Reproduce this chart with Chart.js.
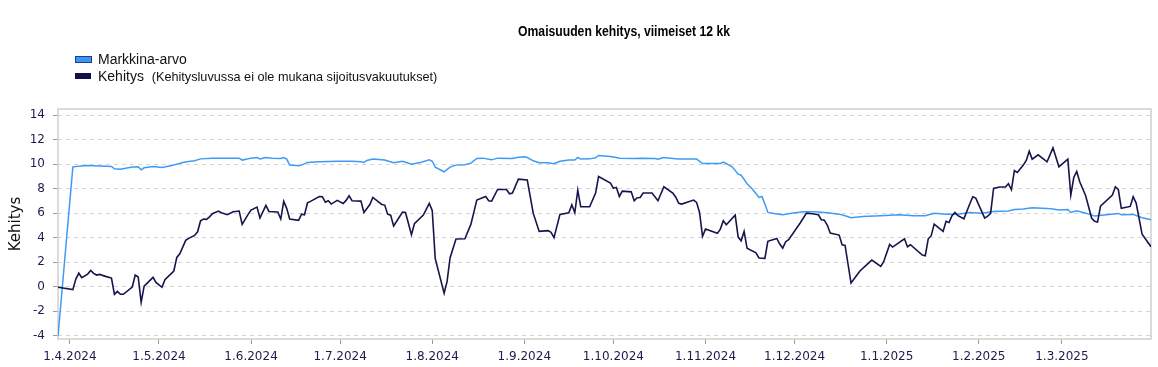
<!DOCTYPE html>
<html>
<head>
<meta charset="utf-8">
<script src="https://cdn.jsdelivr.net/npm/chart.js@4/dist/chart.umd.min.js"></script>
<style>
  html, body { margin: 0; padding: 0; background: #ffffff; }
  #wrap { position: relative; width: 1158px; height: 367px; overflow: hidden; }
  #chart { position: absolute; left: 0; top: 0; }
  #title { position: absolute; left: 474px; width: 300px; top: 23px; text-align: center; white-space: nowrap;
    font-family: "Liberation Sans", Arial, sans-serif; font-weight: bold; font-size: 14px; color: #000;
    transform: scaleX(0.87); transform-origin: 50% 50%; }
  .leg { position: absolute; left: 75px; font-family: "Liberation Sans", Arial, sans-serif; font-size: 14px; color: #111; white-space: nowrap; }
  .leg .box { position: absolute; left: 0; width: 16px; height: 6px; }
  .leg .txt { position: absolute; left: 23px; top: 0; }
</style>
</head>
<body>
<div id="wrap">
  <canvas id="chart" width="1158" height="367"></canvas>
  <div id="title">Omaisuuden kehitys, viimeiset 12 kk</div>
  <div class="leg" style="top:51px"><span class="box" style="top:5px;background:#3d97f2;border:1px solid #1d3f8f;width:15px;height:5px"></span><span class="txt">Markkina-arvo</span></div>
  <div class="leg" style="top:68px"><span class="box" style="top:5px;background:#12124a;"></span><span class="txt">Kehitys&nbsp; <span style="font-size:12.7px">(Kehitysluvussa ei ole mukana sijoitusvakuutukset)</span></span></div>
</div>
<script>
// x values are days counted from 1.4.2024
const monthTickLabels = ['1.4.2024','1.5.2024','1.6.2024','1.7.2024','1.8.2024','1.9.2024','1.10.2024','1.11.2024','1.12.2024','1.1.2025','1.2.2025','1.3.2025'];
const yTickValues = [-4,-2,0,2,4,6,8,10,12,14];

const markkinaDays = [-4,1,4,6,10,14,15,17,21,23,24,25,28,31,34,38,40,42,44,48,54,57,58,61,63,64,66,68,71,72,73,74,77,78,80,84,90,95,98,99,100,102,106,109,112,115,118,121,122,123,126,128,130,133,135,137,139,142,144,149,151,153,154,156,158,161,163,165,168,170,171,172,175,177,178,182,184,185,190,192,197,198,200,202,205,211,213,219,220,223,225,226,228,230,232,233,234,235,237,240,243,247,251,255,257,259,261,263,267,273,279,284,288,291,295,299,303,307,311,316,318,321,324,329,331,333,336,337,339,342,345,349,353,354,358,361,364];
const markkinaValues = [-4.05,9.78,9.84,9.89,9.84,9.81,9.62,9.59,9.76,9.78,9.54,9.7,9.81,9.73,9.86,10.14,10.22,10.27,10.43,10.49,10.49,10.49,10.33,10.49,10.54,10.43,10.54,10.49,10.46,10.54,10.41,9.92,9.86,9.92,10.14,10.19,10.24,10.24,10.19,10.14,10.3,10.41,10.33,10.11,10.24,10.0,10.14,10.35,10.24,9.76,9.38,9.76,9.92,9.95,10.08,10.46,10.49,10.35,10.49,10.46,10.57,10.6,10.54,10.27,10.11,10.11,10.03,10.24,10.33,10.33,10.54,10.41,10.43,10.52,10.71,10.62,10.54,10.49,10.46,10.49,10.46,10.41,10.54,10.49,10.41,10.41,10.05,10.05,10.16,9.78,9.18,9.1,8.4,7.91,7.28,7.36,6.74,6.06,5.98,5.87,6.0,6.11,6.11,6.03,5.98,5.92,5.79,5.63,5.73,5.79,5.87,5.79,5.79,6.0,5.92,5.92,6.06,6.0,6.14,6.17,6.3,6.33,6.44,6.39,6.33,6.25,6.3,6.06,6.2,6.0,5.76,5.87,5.98,5.87,5.9,5.63,5.46];

const kehitysDays = [-4,1,2,3,4,6,7,8,9,10,12,14,15,16,17,18,21,22,23,24,25,28,29,31,32,35,36,37,39,40,42,43,44,45,46,47,48,50,51,53,55,57,58,60,61,63,64,66,67,70,71,72,73,74,77,78,79,80,81,84,85,86,87,88,90,92,93,94,95,98,99,101,102,105,106,107,108,109,112,113,115,116,119,121,122,123,126,127,128,130,133,135,136,137,140,141,142,144,147,148,149,151,154,156,158,161,162,163,165,168,169,170,171,172,175,177,178,182,183,184,185,186,189,190,191,192,193,196,198,200,203,204,205,206,210,211,212,213,214,218,219,220,221,224,225,226,227,228,231,232,234,235,238,239,240,241,242,246,248,250,252,253,254,255,256,257,259,260,261,263,266,270,273,274,276,277,281,282,283,287,288,289,290,291,294,295,296,297,298,299,301,303,304,305,308,309,310,311,313,315,316,317,318,319,321,322,323,324,326,329,331,333,336,337,338,339,340,342,344,345,346,347,351,352,353,354,357,358,359,361,364];
const kehitysValues = [-0.05,-0.24,0.62,1.1,0.73,1.03,1.33,1.09,0.95,1.0,0.84,0.7,-0.62,-0.38,-0.62,-0.62,-0.03,0.95,0.79,-1.28,0.05,0.76,0.35,-0.05,0.57,1.28,2.39,2.69,3.78,3.94,4.18,4.48,5.38,5.52,5.49,5.7,5.95,6.17,6.03,5.87,6.11,6.17,5.08,5.9,6.25,6.49,5.6,6.63,6.14,6.09,5.52,6.96,6.39,5.52,5.41,5.92,5.87,6.85,6.96,7.36,7.34,6.9,7.01,6.74,7.04,6.79,7.04,7.42,7.01,6.98,6.06,6.7,7.28,6.71,6.66,5.92,5.84,4.95,6.09,6.06,4.24,5.14,5.84,6.79,6.22,2.31,-0.54,0.43,2.34,3.89,3.91,5.08,6.06,7.07,7.36,7.01,6.98,7.93,7.93,7.58,7.64,8.78,8.7,6.0,4.51,4.57,4.43,4.0,5.9,6.03,6.68,6.03,7.88,6.52,6.52,7.64,8.99,8.45,8.04,8.1,7.36,7.8,7.74,7.01,7.26,7.28,7.64,7.64,7.01,8.15,7.64,7.3,6.8,6.74,7.07,6.88,6.06,4.1,4.7,4.35,4.7,5.38,5.05,5.84,4.05,3.75,4.51,3.13,2.77,2.34,2.31,3.7,3.94,3.48,3.15,3.67,3.83,5.24,6.0,5.95,5.87,5.46,5.43,5.03,4.38,4.32,4.21,3.42,3.37,0.3,1.28,2.17,1.66,2.04,3.45,3.23,3.91,3.26,3.42,2.58,2.53,3.91,4.16,5.11,4.51,5.33,5.24,5.79,6.06,5.79,5.54,6.77,7.34,7.23,5.6,5.75,5.98,8.02,8.13,8.13,8.4,7.91,9.48,9.32,9.92,10.3,11.06,10.41,10.76,10.19,11.33,9.78,10.41,7.47,8.91,9.4,8.56,7.42,5.6,5.33,5.27,6.58,7.47,8.15,7.93,6.39,6.55,7.34,6.82,4.29,3.26];

function dayOf(label) {
  const p = label.split('.').map(Number);
  return Math.round((Date.UTC(p[2], p[1] - 1, p[0]) - Date.UTC(2024, 3, 1)) / 86400000);
}
const monthTickDays = monthTickLabels.map(dayOf);
const pts = (xs, ys) => xs.map((x, i) => ({ x: x, y: ys[i] }));

const frame = {
  id: 'frame',
  beforeDatasetsDraw(chart) {
    const a = chart.chartArea, c = chart.ctx;
    c.save();
    c.strokeStyle = '#cfcfcf';
    c.lineWidth = 1.5;
    c.strokeRect(a.left, a.top, a.right - a.left, a.bottom - a.top);
    c.restore();
  }
};

const tickFont = { family: 'DejaVu Sans', size: 12 };
new Chart(document.getElementById('chart'), {
  type: 'line',
  data: {
    datasets: [
      { label: 'Markkina-arvo', data: pts(markkinaDays, markkinaValues), borderColor: '#3d9bf5', borderWidth: 1.5, pointRadius: 0, tension: 0, fill: false, order: 2 },
      { label: 'Kehitys', data: pts(kehitysDays, kehitysValues), borderColor: '#15154d', borderWidth: 1.6, pointRadius: 0, tension: 0, fill: false, order: 1 }
    ]
  },
  options: {
    responsive: false,
    animation: false,
    layout: { padding: { top: 109, right: 7, left: 0, bottom: 0 } },
    plugins: { legend: { display: false }, title: { display: false }, tooltip: { enabled: false } },
    scales: {
      x: {
        type: 'linear', min: -4, max: 364,
        afterBuildTicks(s) { s.ticks = monthTickDays.map(v => ({ value: v })); },
        afterFit(s) { s.height = 28; },
        ticks: { font: tickFont, color: '#1c1c4f', padding: 6, maxRotation: 0, autoSkip: false,
          callback(v) { const i = monthTickDays.indexOf(v); return i >= 0 ? monthTickLabels[i] : ''; } },
        grid: { drawOnChartArea: false, drawTicks: true, tickLength: 5, tickColor: '#9a9a9a', tickWidth: 1 },
        border: { display: false }
      },
      y: {
        min: -4.27, max: 14.5,
        afterBuildTicks(s) { s.ticks = yTickValues.map(v => ({ value: v })); },
        afterFit(s) { s.width = 58; },
        ticks: { font: tickFont, color: '#1c1c4f', padding: 8 },
        grid: { color: '#d6d6d6', lineWidth: 1, drawTicks: true, tickLength: 5, tickColor: '#9a9a9a', tickBorderDash: [] },
        border: { display: false, dash: [4, 4] },
        title: { display: true, text: 'Kehitys', font: { family: 'DejaVu Sans', size: 15 }, color: '#111', padding: { top: 7, bottom: 0 } }
      }
    }
  },
  plugins: [frame]
});
</script>
</body>
</html>
